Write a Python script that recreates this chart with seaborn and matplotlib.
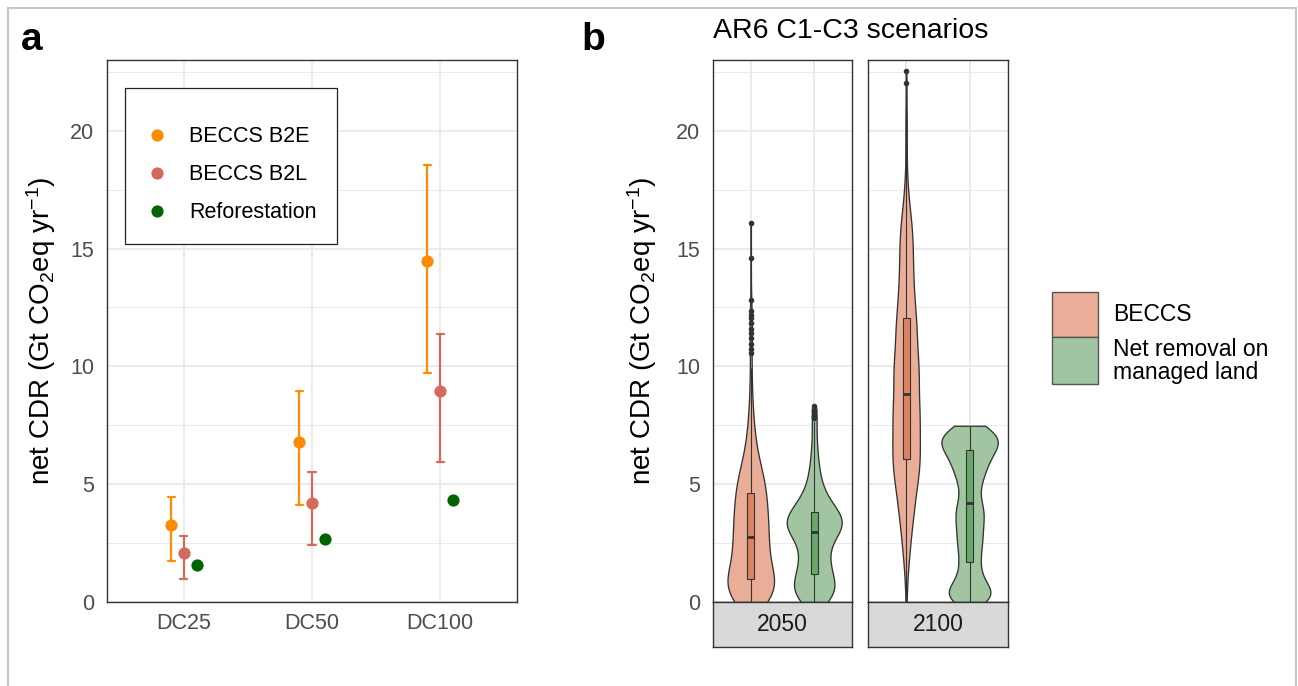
import numpy as np
import pandas as pd
import matplotlib
matplotlib.use("Agg")
import matplotlib.pyplot as plt
from matplotlib.lines import Line2D
from matplotlib.patches import Rectangle
from matplotlib.ticker import MultipleLocator
import seaborn as sns

# ---------------- Panel a data ----------------
dc_scenarios = ["DC25", "DC50", "DC100"]
cdr_types = ["BECCS B2E", "BECCS B2L", "Reforestation"]
b2e_mid = [3.28, 6.78, 14.45]
b2e_low = [1.76, 4.13, 9.71]
b2e_high = [4.44, 8.95, 18.55]
b2l_mid = [2.07, 4.20, 8.95]
b2l_low = [0.99, 2.43, 5.94]
b2l_high = [2.78, 5.53, 11.37]
refor_mid = [1.57, 2.68, 4.33]

# ---------------- Panel b data (scenario values and their counts) ----------------
years = ["2050", "2100"]
cdr_groups = ["BECCS", "Net removal on managed land"]

beccs_2050_vals = [0.0, 0.12, 0.24, 0.36, 0.48, 0.6, 0.72, 0.84, 0.96,
                   1.1, 1.3, 1.5, 1.7, 1.9, 2.1, 2.3, 2.5, 2.62, 2.74,
                   2.9, 3.1, 3.3, 3.5, 3.7, 3.9, 4.1, 4.3, 4.45, 4.61,
                   4.8, 5.0, 5.2, 5.4, 5.6, 5.8, 6.0, 6.2, 6.4, 6.6, 6.8, 7.0, 7.2,
                   7.4, 7.6, 7.8, 8.0, 8.2, 8.4, 8.6, 8.8, 9.0, 9.2, 9.4, 9.6, 9.95,
                   10.55, 10.75, 10.95, 11.2, 11.4, 11.6, 11.85, 12.05, 12.2, 12.35,
                   12.8, 14.6, 16.1]
beccs_2050_counts = [14, 16, 16, 16, 16, 16, 16, 16, 10,
                     15, 15, 15, 15, 14, 14, 14, 14, 7, 8,
                     14, 14, 14, 14, 14, 13, 13, 13, 7, 10,
                     14, 13, 11, 10, 8, 8, 7, 5, 5, 4, 4, 3, 3,
                     3, 2, 2, 2, 2, 1, 1, 1, 1, 1, 1, 1, 1,
                     1, 1, 1, 1, 1, 1, 1, 1, 1, 1,
                     1, 1, 1]

net_2050_vals = [0.0, 0.2, 0.4, 0.6, 0.8, 1.0, 1.18,
                 1.35, 1.55, 1.75, 1.95, 2.15, 2.35, 2.55, 2.75, 2.88, 2.98,
                 3.1, 3.25, 3.4, 3.55, 3.68, 3.8,
                 3.95, 4.15, 4.35, 4.55, 4.75, 4.95, 5.15, 5.35, 5.55, 5.75,
                 5.95, 6.15, 6.35, 6.55, 6.75, 6.95, 7.15, 7.35, 7.55, 7.7,
                 7.8, 7.85, 7.9, 7.95, 8.0, 8.05, 8.1, 8.15, 8.2, 8.3]
net_2050_counts = [18, 22, 23, 23, 22, 20, 6,
                   17, 15, 14, 13, 12, 12, 13, 15, 12, 8,
                   25, 25, 25, 25, 22, 6,
                   19, 17, 13, 10, 8, 7, 6, 5, 5, 4,
                   4, 3, 3, 3, 2, 2, 2, 2, 1, 1,
                   1, 1, 1, 1, 1, 1, 1, 1, 1, 1]

beccs_2100_vals = [0.0, 0.4, 0.8, 1.2, 1.5, 2.0, 2.5, 3.0, 3.5, 4.0, 4.5, 5.0, 5.5, 5.8, 6.08,
                   6.4, 6.8, 7.2, 7.6, 8.0, 8.4, 8.65, 8.83,
                   9.2, 9.6, 10.0, 10.4, 10.8, 11.2, 11.6, 11.9, 12.04,
                   12.4, 12.8, 13.2, 13.6, 14.0, 14.4, 14.8, 15.2, 15.6, 16.0, 16.4,
                   16.8, 17.2, 17.6, 18.0, 18.5, 19.0, 19.5, 20.0, 20.5, 20.9,
                   22.03, 22.55]
beccs_2100_counts = [1, 1, 1, 1, 3, 5, 6, 8, 10, 12, 14, 16, 17, 12, 10,
                     16, 16, 16, 16, 16, 17, 4, 8,
                     16, 16, 15, 14, 13, 12, 12, 6, 8,
                     10, 10, 9, 9, 8, 8, 8, 8, 8, 7, 5,
                     4, 3, 2, 1, 1, 1, 1, 1, 1, 1,
                     1, 1]

net_2100_vals = [0.0, 0.12, 0.24, 0.36, 0.48, 0.6, 0.72, 0.84, 0.96, 1.08, 1.2, 1.35, 1.5, 1.6, 1.70,
                 1.9, 2.1, 2.3, 2.5, 2.7, 2.9, 3.1, 3.3, 3.5, 3.7, 3.9, 4.05, 4.21,
                 4.4, 4.6, 4.8, 5.0, 5.2, 5.4, 5.6, 5.8, 6.0, 6.2, 6.33, 6.45,
                 6.6, 6.75, 6.9, 7.05, 7.2, 7.35, 7.48]
net_2100_counts = [12, 11, 11, 10, 8, 8, 7, 6, 5, 4, 4, 5, 5, 3, 4,
                   7, 7, 7, 8, 8, 8, 8, 8, 9, 9, 9, 5, 8,
                   5, 6, 6, 7, 8, 9, 10, 11, 12, 13, 7, 8,
                   17, 16, 15, 13, 12, 11, 10]

# ---------------- Style ----------------
sns.set_style("white")
plt.rcParams["font.family"] = ["Liberation Sans", "DejaVu Sans"]
plt.rcParams["mathtext.fontset"] = "custom"
plt.rcParams["mathtext.rm"] = "Liberation Sans"
plt.rcParams["mathtext.it"] = "Liberation Sans:italic"
plt.rcParams["mathtext.bf"] = "Liberation Sans:bold"
plt.rcParams["mathtext.default"] = "regular"
plt.rcParams["text.color"] = "black"
plt.rcParams["axes.labelcolor"] = "black"

point_colors = {"BECCS B2E": "#FF8C00", "BECCS B2L": "#D5695A", "Reforestation": "#006400"}
violin_fill = {"BECCS": "#E9AD98", "Net removal on managed land": "#A0C5A0"}
box_fill = {"BECCS": "#DE8264", "Net removal on managed land": "#68A868"}
DARK = "#333333"
TICKLAB = "#4D4D4D"
GRID = "#EBEBEB"

W, H = 1298, 686
fig = plt.figure(figsize=(W / 100, H / 100), dpi=100)
fig.patch.set_facecolor("white")


def fx(px):
    return px / W


def fy(py):
    return 1 - py / H


TOP, BOT = 60, 602
axa = fig.add_axes([fx(107), fy(BOT), (517 - 107) / W, (BOT - TOP) / H])
ax1 = fig.add_axes([fx(712.7), fy(BOT), 139.6 / W, (BOT - TOP) / H])
ax2 = fig.add_axes([fx(868), fy(BOT), 139.7 / W, (BOT - TOP) / H])

ylab = r"net CDR (Gt CO$_2$eq yr$^{-1}$)"
YLAB_FS = 20


def style_axes(ax):
    ax.set_ylim(0, 23)
    ax.yaxis.set_major_locator(MultipleLocator(5))
    ax.yaxis.set_minor_locator(MultipleLocator(2.5))
    ax.set_axisbelow(True)
    ax.grid(which="major", color=GRID, linewidth=1.4)
    ax.grid(which="minor", axis="y", color=GRID, linewidth=0.7)
    for sp in ax.spines.values():
        sp.set_visible(True)
        sp.set_color(DARK)
        sp.set_linewidth(1.0)
    ax.tick_params(which="major", length=5.2, width=1.0, color=DARK,
                   labelcolor=TICKLAB, labelsize=15.5, pad=4)
    ax.tick_params(which="minor", length=0)


# ---------------- Panel a ----------------
rows = []
for i, s in enumerate(dc_scenarios):
    for v in (b2e_low[i], b2e_mid[i], b2e_high[i]):
        rows.append((s, "BECCS B2E", v))
    for v in (b2l_low[i], b2l_mid[i], b2l_high[i]):
        rows.append((s, "BECCS B2L", v))
    rows.append((s, "Reforestation", refor_mid[i]))
dfa = pd.DataFrame(rows, columns=["scenario", "type", "value"])

sns.pointplot(data=dfa, x="scenario", y="value", hue="type", order=dc_scenarios,
              hue_order=cdr_types, palette=point_colors, estimator="median",
              errorbar=("pi", 100), dodge=0.2, linestyle="none", markers="o",
              markersize=8.8, markeredgewidth=0, capsize=0.055,
              err_kws={"linewidth": 1.6}, legend=False, ax=axa)
for ln in axa.lines:
    if ln.get_marker() == "o":
        ln.set_zorder(5)

style_axes(axa)
axa.set_xlim(-0.6, 2.6)
axa.set_xlabel("")
axa.tick_params(axis="x", pad=3)
axa.set_ylabel(ylab, fontsize=YLAB_FS, color="black")
axa.yaxis.set_label_coords(-0.1195, 0.5)

handles = [Line2D([], [], marker="o", linestyle="none", color=point_colors[t],
                  markersize=8.8, markeredgewidth=0) for t in cdr_types]
leg = axa.legend(handles, cdr_types, loc="upper left",
                 bbox_to_anchor=((125 - 107) / 410, 1 - (88 - 60) / 542),
                 borderaxespad=0, frameon=True, fancybox=False, framealpha=1,
                 edgecolor="#222222", fontsize=15.5, borderpad=0.95,
                 labelspacing=0.79, handlelength=1.08, handletextpad=0.95,
                 title=" ", title_fontsize=0.5)
leg.get_frame().set_linewidth(0.9)

# ---------------- Panel b ----------------
violin_sets = [
    (ax1, "BECCS", beccs_2050_vals, beccs_2050_counts, 0.733, 0.75),
    (ax1, "Net removal on managed land", net_2050_vals, net_2050_counts, 0.866, 0.55),
    (ax2, "BECCS", beccs_2100_vals, beccs_2100_counts, 0.433, 0.7),
    (ax2, "Net removal on managed land", net_2100_vals, net_2100_counts, 0.887, 0.4),
]
for ax, grp, vals, cnts, wid, bw in violin_sets:
    v = np.repeat(np.array(vals, dtype=float), np.array(cnts))
    d = pd.DataFrame({"group": grp, "value": v})
    factor = bw / np.std(v, ddof=1)
    sns.violinplot(data=d, x="group", y="value", order=cdr_groups, ax=ax,
                   color=violin_fill[grp], saturation=1, linecolor=DARK,
                   linewidth=0.95, inner=None, cut=0, density_norm="width",
                   width=wid, bw_method=factor, gridsize=300)
for ax, grp, vals, cnts, wid, bw in violin_sets:
    v = np.repeat(np.array(vals, dtype=float), np.array(cnts))
    d = pd.DataFrame({"group": grp, "value": v})
    sns.boxplot(data=d, x="group", y="value", order=cdr_groups, ax=ax,
                color=box_fill[grp], saturation=1, width=0.11, linecolor=DARK,
                linewidth=0.8, fliersize=3, whis=1.5,
                medianprops=dict(linewidth=2.0, color=DARK),
                flierprops=dict(marker="o", markerfacecolor=DARK, markeredgecolor=DARK),
                capprops=dict(visible=False))

for ax in (ax1, ax2):
    style_axes(ax)
    ax.set_xlim(-0.6, 1.6)
    ax.set_xlabel("")
    ax.set_ylabel("")
    ax.tick_params(axis="x", length=0, labelbottom=False)
ax2.tick_params(axis="y", length=0, labelleft=False)
ax1.set_ylabel(ylab, fontsize=YLAB_FS, color="black")
ax1.yaxis.set_label_coords((659.3 - 712.7) / 139.6, 0.5)

# facet strips at bottom
for ax, yr in ((ax1, years[0]), (ax2, years[1])):
    pos = ax.get_position()
    sax = fig.add_axes([pos.x0, fy(647), pos.width, 45 / H])
    sax.set_facecolor("#D9D9D9")
    sax.set_xticks([])
    sax.set_yticks([])
    for sp in sax.spines.values():
        sp.set_visible(True)
        sp.set_color(DARK)
        sp.set_linewidth(1.0)
    sax.text(0.5, 0.5, yr, ha="center", va="center", fontsize=16.5,
             color="#1A1A1A", transform=sax.transAxes)

# right legend (fill keys)
fig.add_artist(Rectangle((fx(1052), fy(336.7)), 46 / W, 45 / H, transform=fig.transFigure,
                         facecolor=violin_fill["BECCS"], edgecolor="#555555", linewidth=1.0))
fig.add_artist(Rectangle((fx(1052), fy(384.3)), 46 / W, 47.6 / H, transform=fig.transFigure,
                         facecolor=violin_fill["Net removal on managed land"],
                         edgecolor="#555555", linewidth=1.0))
fig.text(fx(1113), fy(315), "BECCS", ha="left", va="center", fontsize=16.5)
fig.text(fx(1113), fy(350), "Net removal on", ha="left", va="center", fontsize=16.5)
fig.text(fx(1113), fy(373), "managed land", ha="left", va="center", fontsize=16.5)

# titles and panel letters
fig.text(fx(712.7), fy(38.3), "AR6 C1-C3 scenarios", ha="left", va="baseline", fontsize=20.5)
fig.text(fx(20.7), fy(50), "a", ha="left", va="baseline", fontsize=28, fontweight="bold")
fig.text(fx(581.7), fy(50), "b", ha="left", va="baseline", fontsize=28, fontweight="bold")

# light frame around the figure
fig.add_artist(Rectangle((fx(8), -0.05), (1296 - 8) / W, 1.05 - 8 / H, transform=fig.transFigure,
                         fill=False, edgecolor="#C8C8C8", linewidth=1.5))

fig.savefig("out.png", dpi=100)
